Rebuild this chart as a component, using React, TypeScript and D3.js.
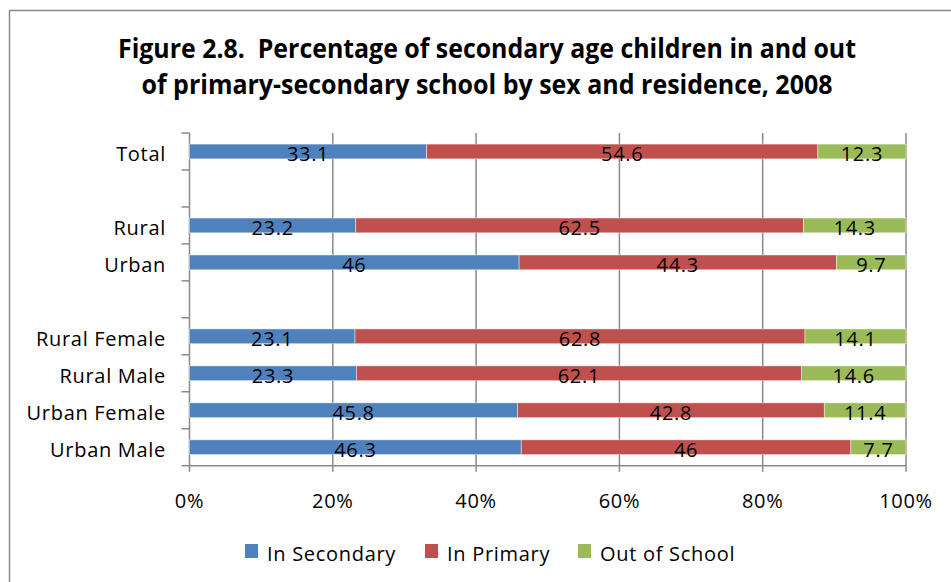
import React from "react";
import * as d3 from "d3";

const categories = ["Total", "", "Rural", "Urban", "", "Rural Female", "Rural Male", "Urban Female", "Urban Male"];
const inSecondary = [33.1, null, 23.2, 46, null, 23.1, 23.3, 45.8, 46.3];
const inPrimary = [54.6, null, 62.5, 44.3, null, 62.8, 62.1, 42.8, 46];
const outOfSchool = [12.3, null, 14.3, 9.7, null, 14.1, 14.6, 11.4, 7.7];
const seriesNames = ["In Secondary", "In Primary", "Out of School"];
const seriesColors = ["#4F81BD", "#C0504D", "#9BBB59"];
const xTicks = [0, 20, 40, 60, 80, 100];
const titleLines = [
  "Figure 2.8.  Percentage of secondary age children in and out",
  "of primary-secondary school by sex and residence, 2008",
];

const W = 951;
const H = 582;
const PLOT = { left: 189.5, right: 906, top: 133, bottom: 465.7 };
const FONT = "'Open Sans', 'DejaVu Sans', sans-serif";
const GRID = "#8a8a8a";

export default function App() {
  const seriesValues = [inSecondary, inPrimary, outOfSchool];
  const rows = categories.map((c, i) => {
    const r: any = { key: String(i), label: c, empty: inSecondary[i] == null };
    seriesNames.forEach((s, k) => (r[s] = seriesValues[k][i] ?? 0));
    return r;
  });

  const x = d3.scaleLinear().domain([0, 100]).range([PLOT.left, PLOT.right]);
  const y = d3
    .scaleBand<string>()
    .domain(rows.map((r) => r.key))
    .range([PLOT.top, PLOT.bottom])
    .paddingInner(0.6)
    .paddingOuter(0.3);
  const step = y.step();
  const stacked = d3.stack<any>().keys(seriesNames)(rows);
  const color = d3.scaleOrdinal<string, string>().domain(seriesNames).range(seriesColors);
  const fmt = d3.format(".0%");

  const boundaries = d3.range(categories.length + 1).map((i) => PLOT.top + i * step);

  const legendX = [245, 425, 578];

  return (
    <svg
      width={W}
      height={H}
      style={{ position: "absolute", left: 0, top: 0, background: "#fff" }}
      fontFamily={FONT}
    >
      <rect x={0} y={0} width={W} height={H} fill="#fff" />
      <rect x={9.5} y={10.5} width={1200} height={1200} fill="none" stroke="#888" strokeWidth={1.5} />

      {titleLines.map((t, i) => (
        <text
          key={i}
          x={487}
          y={i === 0 ? 58 : 93.5}
          textAnchor="middle"
          fontSize={26}
          fontWeight="bold"
          fill="#000"
          textLength={i === 0 ? 738 : 691}
          lengthAdjust="spacingAndGlyphs"
          style={{ whiteSpace: "pre" }}
        >
          {t}
        </text>
      ))}

      {/* gridlines */}
      {xTicks.map((t) => (
        <line key={"g" + t} x1={x(t)} x2={x(t)} y1={PLOT.top} y2={PLOT.bottom + 6} stroke={GRID} strokeWidth={1.5} />
      ))}
      {/* left axis ticks */}
      {boundaries.map((b, i) => (
        <line key={"lt" + i} x1={PLOT.left - 8} x2={PLOT.left} y1={b} y2={b} stroke={GRID} strokeWidth={1.5} />
      ))}
      <line x1={PLOT.left} x2={PLOT.right} y1={PLOT.bottom} y2={PLOT.bottom} stroke={GRID} strokeWidth={1.5} />

      {/* bars */}
      {stacked.map((s) => (
        <g key={s.key} fill={color(s.key)}>
          {s.map((d, i) =>
            rows[i].empty ? null : (
              <rect
                key={i}
                x={x(d[0])}
                y={y(rows[i].key)}
                width={x(d[1]) - x(d[0])}
                height={y.bandwidth()}
                stroke="#ffffff"
                strokeOpacity={0.55}
                strokeWidth={0.8}
              />
            )
          )}
        </g>
      ))}

      {/* data labels */}
      {stacked.map((s) =>
        s.map((d, i) =>
          rows[i].empty ? null : (
            <text
              key={s.key + i}
              x={(x(d[0]) + x(d[1])) / 2}
              y={(y(rows[i].key) as number) + y.bandwidth() / 2 + 10}
              textAnchor="middle"
              fontSize={20}
              letterSpacing={0.7}
              fill="#000"
            >
              {String(+(d[1] - d[0]).toFixed(1))}
            </text>
          )
        )
      )}

      {/* category labels */}
      {rows.map((r) =>
        r.label ? (
          <text
            key={"c" + r.key}
            x={166}
            y={(y(r.key) as number) + y.bandwidth() / 2 + 9.5}
            textAnchor="end"
            fontSize={20}
            letterSpacing={0.7}
            fill="#000"
          >
            {r.label}
          </text>
        ) : null
      )}

      {/* x tick labels */}
      {xTicks.map((t) => (
        <text key={"xl" + t} x={x(t)} y={508} textAnchor="middle" fontSize={20} letterSpacing={0.7} fill="#000">
          {fmt(t / 100)}
        </text>
      ))}

      {/* legend */}
      {seriesNames.map((s, i) => (
        <g key={"lg" + s}>
          <rect x={legendX[i]} y={544} width={13} height={14} fill={color(s)} />
          <text x={legendX[i] + 22} y={561} fontSize={20} letterSpacing={0.7} fill="#000">
            {s}
          </text>
        </g>
      ))}
    </svg>
  );
}
